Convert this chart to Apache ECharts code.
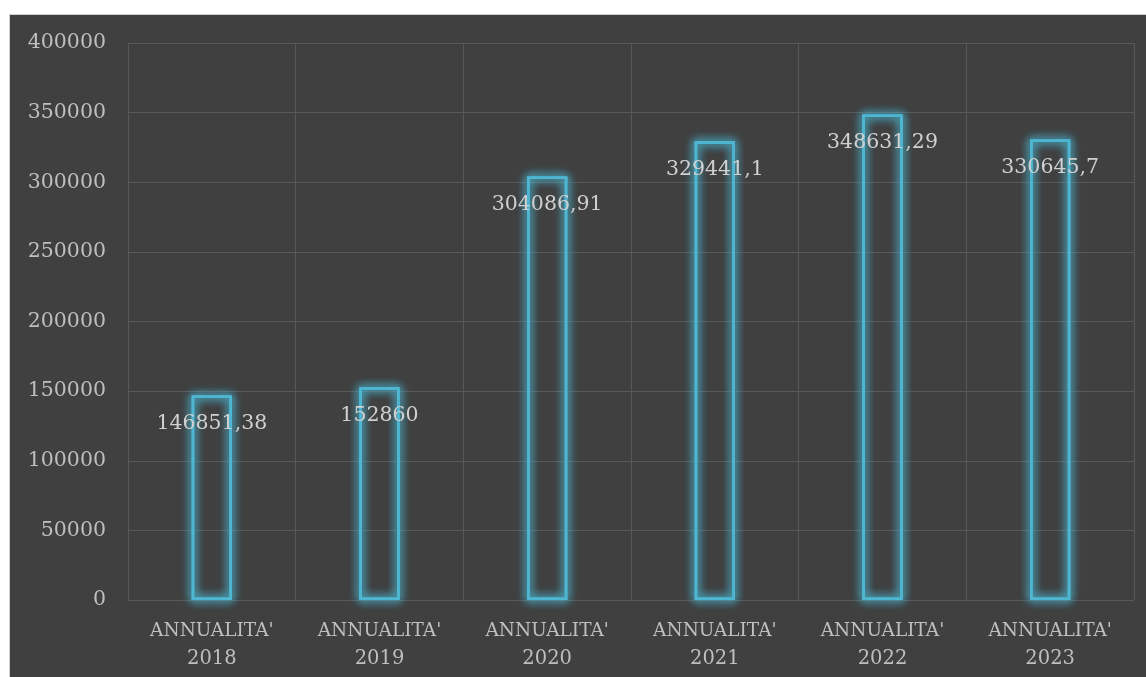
<!DOCTYPE html>
<html>
<head>
<meta charset="utf-8">
<script src="https://cdn.jsdelivr.net/npm/echarts@6/dist/echarts.min.js"></script>
<style>
    html, body { margin: 0; padding: 0; background: #ffffff; }
    #chart {
        position: absolute; left: 9px; top: 14px;
        width: 1137px; height: 663px;
        background: #404040;
        border-left: 1px solid #d0d0d0; border-top: 1px solid #d0d0d0;
    }
</style>
</head>
<body>
<div id="chart"></div>
<script>
    //---数据定义区----------------------------------
    var labelTop = "ANNUALITA'";
    var years = ['2018', '2019', '2020', '2021', '2022', '2023'];
    var values = [146851.38, 152860, 304086.91, 329441.1, 348631.29, 330645.7];
    var yTicks = [0, 50000, 100000, 150000, 200000, 250000, 300000, 350000, 400000];
    //----------------------------------------------

    var FONT = 'DejaVu Serif';
    var CYAN = '#4fb6d2';
    var categories = years.map(function (y) { return labelTop + '\n' + y; });
    var _charts = echarts.init(document.getElementById('chart'));

    // outlined bar with soft glow; stacked copies make the glow stronger
    function outlineSeries(withLabel) {
        var s = {
            type: 'bar',
            data: values,
            barWidth: '24%',
            barGap: '-100%',
            silent: !withLabel,
            itemStyle: {
                color: 'rgba(0,0,0,0)',
                borderColor: CYAN,
                borderWidth: 2.5,
                shadowBlur: 10,
                shadowColor: 'rgba(75,180,207,1)'
            }
        };
        if (withLabel) {
            s.label = {
                show: true,
                position: 'insideTop',
                distance: 18,
                color: '#d0d0d0',
                fontFamily: FONT,
                fontSize: 20.5,
                formatter: function (p) {
                    return String(p.value).replace('.', ',');
                }
            };
        }
        return s;
    }

    var _options = {
        animation: false,
        grid: { left: 118, right: 13, top: 28, bottom: 78 },
        xAxis: {
            type: 'category',
            data: categories,
            axisLine: { show: false },
            axisTick: { show: false },
            splitLine: { show: true, interval: 0, lineStyle: { color: '#595959', width: 1 } },
            axisLabel: {
                interval: 0,
                margin: 18,
                formatter: function (v) {
                    var p = v.split('\n');
                    return '{a|' + p[0] + '}\n{b|' + p[1] + '}';
                },
                rich: {
                    a: { color: '#bfbfbf', fontFamily: FONT, fontSize: 18.5, lineHeight: 27 },
                    b: { color: '#bfbfbf', fontFamily: FONT, fontSize: 19.5, lineHeight: 27 }
                }
            }
        },
        yAxis: {
            type: 'value',
            min: yTicks[0],
            max: yTicks[yTicks.length - 1],
            interval: yTicks[1] - yTicks[0],
            axisLine: { show: false },
            axisTick: { show: false },
            splitLine: { lineStyle: { color: '#595959', width: 1 } },
            axisLabel: {
                color: '#bfbfbf', fontFamily: FONT, fontSize: 20.5, margin: 22,
                formatter: function (v) { return String(v); }
            }
        },
        series: [outlineSeries(false), outlineSeries(false), outlineSeries(true)]
    };
    _charts.setOption(_options);
</script>
</body>
</html>
